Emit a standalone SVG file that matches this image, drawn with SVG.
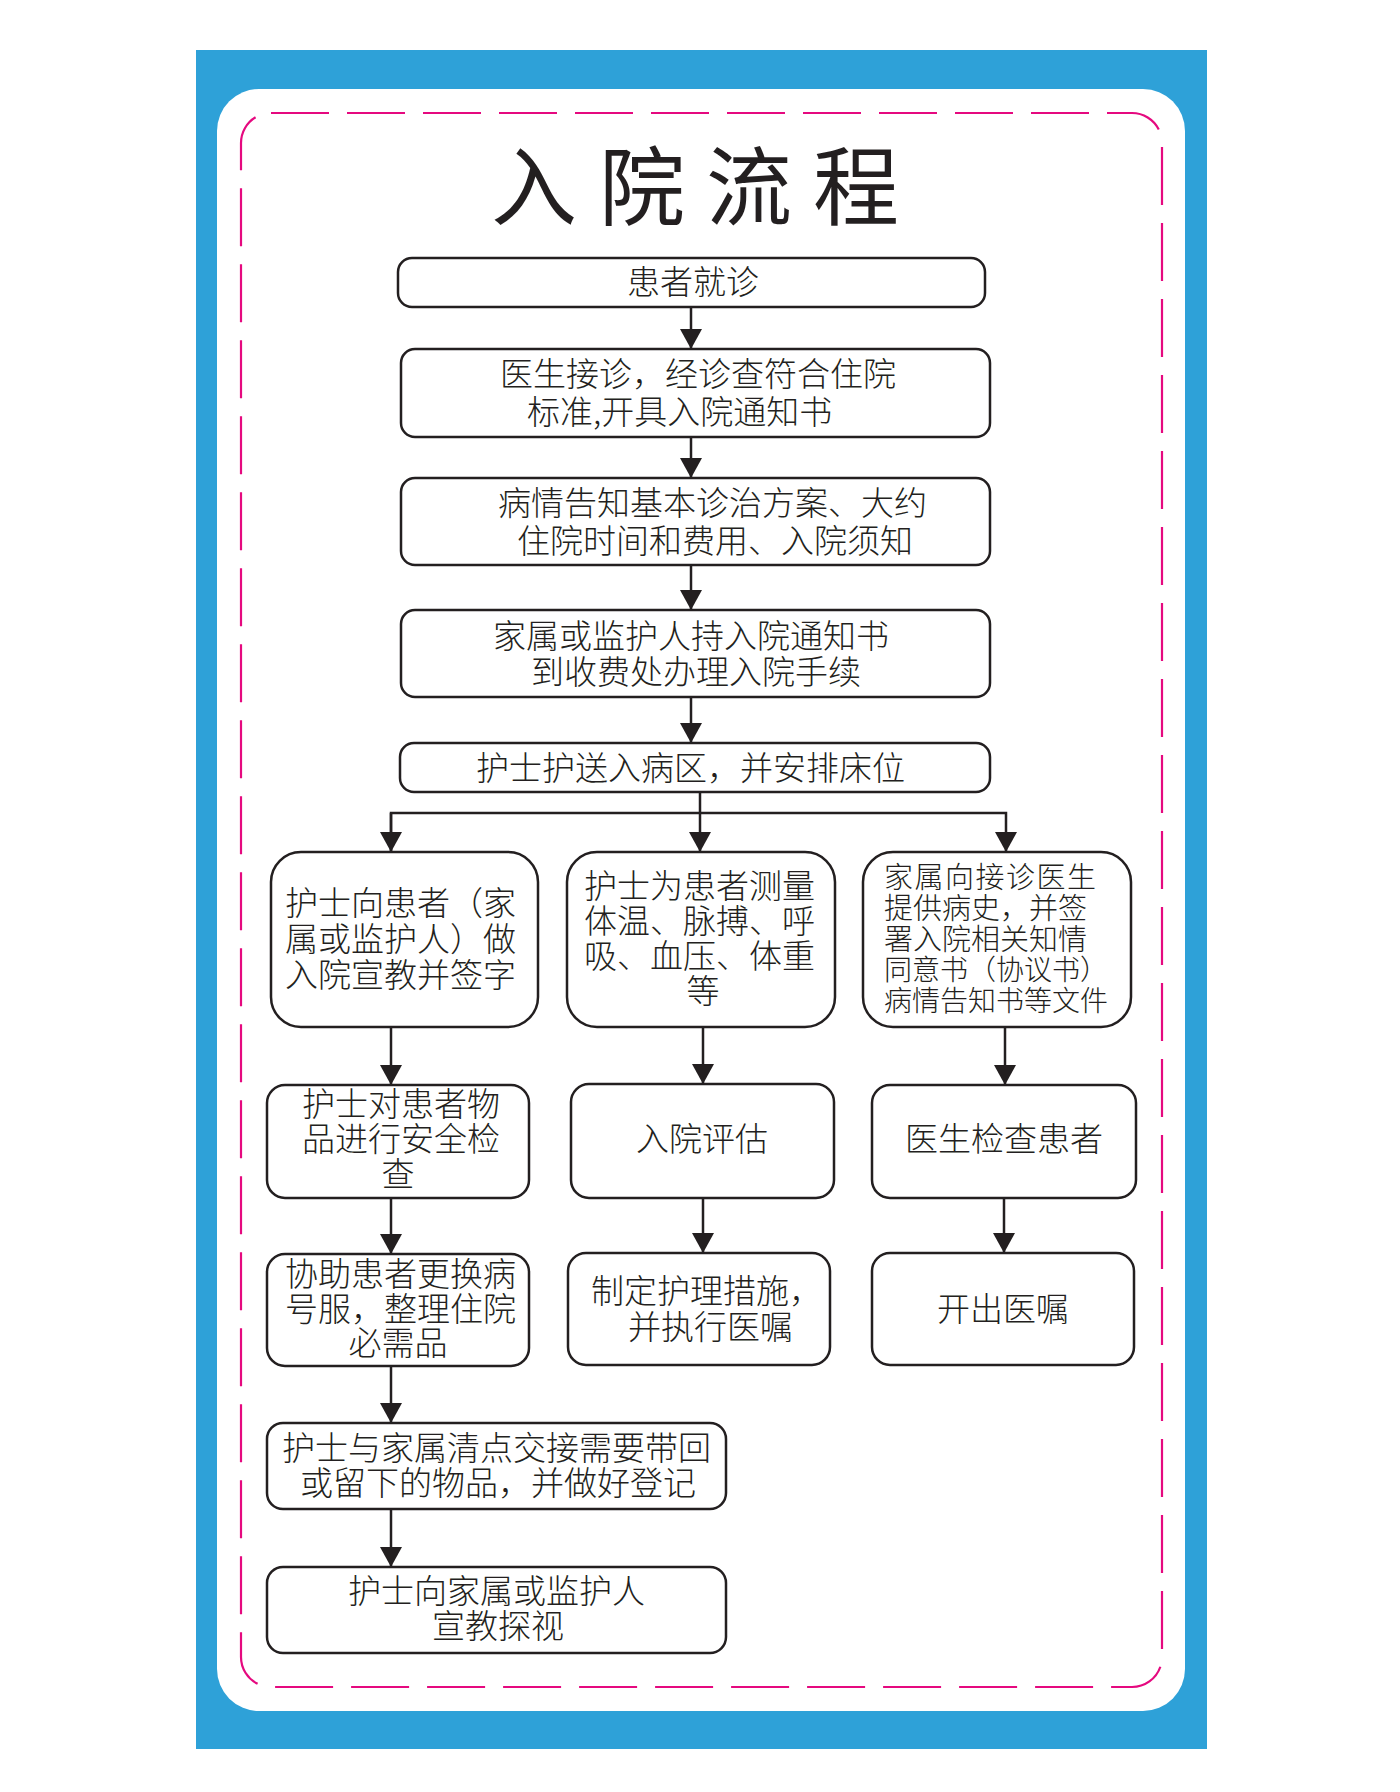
<svg xmlns="http://www.w3.org/2000/svg" width="1400" height="1792" viewBox="0 0 1400 1792">
<style>
.box{fill:#fff;stroke:#231f20;stroke-width:2.5}
.t{font-family:"Noto Sans CJK SC","Noto Sans",sans-serif;font-size:33px;fill:#231f20;dominant-baseline:central;font-weight:300}
.m{text-anchor:middle}
.s{text-anchor:start}
.r{font-size:29px}
.c{fill:none;stroke:#231f20;stroke-width:2.5}
.title{font-family:"Noto Sans CJK SC","Noto Sans",sans-serif;font-size:86px;fill:#231f20;text-anchor:middle;dominant-baseline:central;font-weight:400}
</style>
<defs>
<marker id="ah" viewBox="0 0 20 22" markerWidth="20" markerHeight="22" refX="20" refY="11" orient="auto" markerUnits="userSpaceOnUse">
<path d="M0,0 L20,11 L0,22 Z" fill="#231f20"/>
</marker>
</defs>
<rect width="1400" height="1792" fill="#fff"/>
<rect x="196" y="50" width="1011" height="1699" fill="#2ea1d8"/>
<rect x="217" y="89" width="968" height="1622" rx="42" fill="#fff"/>
<rect x="241" y="113" width="921" height="1574" rx="30" fill="none" stroke="#e5097f" stroke-width="2.2" stroke-dasharray="58 18"/>
<g id="title"><text class="title" x="534" y="181">入</text><text class="title" x="642" y="181">院</text><text class="title" x="749" y="181">流</text><text class="title" x="856" y="181">程</text></g>

<g id="connectors">
<line class="c" x1="691" y1="307" x2="691" y2="349" marker-end="url(#ah)"/>
<line class="c" x1="691" y1="437" x2="691" y2="478" marker-end="url(#ah)"/>
<line class="c" x1="691" y1="565" x2="691" y2="610" marker-end="url(#ah)"/>
<line class="c" x1="691" y1="697" x2="691" y2="743" marker-end="url(#ah)"/>
<polyline class="c" points="700,792 700,813"/>
<polyline class="c" points="391,852 391,813 1006,813 1006,852" marker-end="url(#ah)"/>
<line class="c" x1="391" y1="813" x2="391" y2="852" marker-end="url(#ah)"/>
<line class="c" x1="700" y1="813" x2="700" y2="852" marker-end="url(#ah)"/>
<line class="c" x1="391" y1="1027" x2="391" y2="1085" marker-end="url(#ah)"/>
<line class="c" x1="703" y1="1027" x2="703" y2="1084" marker-end="url(#ah)"/>
<line class="c" x1="1005" y1="1027" x2="1005" y2="1085" marker-end="url(#ah)"/>
<line class="c" x1="391" y1="1198" x2="391" y2="1254" marker-end="url(#ah)"/>
<line class="c" x1="703" y1="1198" x2="703" y2="1253" marker-end="url(#ah)"/>
<line class="c" x1="1004" y1="1198" x2="1004" y2="1253" marker-end="url(#ah)"/>
<line class="c" x1="391" y1="1366" x2="391" y2="1423" marker-end="url(#ah)"/>
<line class="c" x1="391" y1="1509" x2="391" y2="1567" marker-end="url(#ah)"/>
</g>

<g id="n1"><rect class="box" x="398" y="258" width="587" height="49" rx="14"/><text class="t m" x="693" y="280">患者就诊</text></g>
<g id="n2"><rect class="box" x="401" y="349" width="589" height="88" rx="14"/><text class="t s" x="500" y="372">医生接诊，经诊查符合住院</text><text class="t s" x="527" y="410">标准,开具入院通知书</text></g>
<g id="n3"><rect class="box" x="401" y="478" width="589" height="87" rx="14"/><text class="t s" x="498" y="501">病情告知基本诊治方案、大约</text><text class="t s" x="517" y="539">住院时间和费用、入院须知</text></g>
<g id="n4"><rect class="box" x="401" y="610" width="589" height="87" rx="14"/><text class="t s" x="493" y="634">家属或监护人持入院通知书</text><text class="t s" x="531" y="670">到收费处办理入院手续</text></g>
<g id="n5"><rect class="box" x="400" y="743" width="590" height="49" rx="14"/><text class="t s" x="476" y="766">护士护送入病区，并安排床位</text></g>

<g id="n6"><rect class="box" x="271" y="852" width="267" height="175" rx="30"/><text class="t s" x="285" y="901">护士向患者（家</text><text class="t s" x="285" y="937">属或监护人）做</text><text class="t s" x="285" y="973">入院宣教并签字</text></g>
<g id="n7"><rect class="box" x="567" y="852" width="268" height="175" rx="30"/><text class="t s" x="584" y="884">护士为患者测量</text><text class="t s" x="584" y="919">体温、脉搏、呼</text><text class="t s" x="584" y="954">吸、血压、体重</text><text class="t m" x="703" y="989">等</text></g>
<g id="n8"><rect class="box" x="863" y="852" width="268" height="175" rx="30"/><text class="t s r" x="884" y="875" style="letter-spacing:1.5px">家属向接诊医生</text><text class="t s r" x="884" y="906">提供病史，并签</text><text class="t s r" x="884" y="937">署入院相关知情</text><text class="t s" x="884" y="968" style="font-size:28px">同意书（协议书）</text><text class="t s" x="884" y="999" style="font-size:28px">病情告知书等文件</text></g>

<g id="n9"><rect class="box" x="267" y="1085" width="262" height="113" rx="18"/><text class="t s" x="302" y="1102">护士对患者物</text><text class="t s" x="302" y="1137">品进行安全检</text><text class="t m" x="398" y="1172">查</text></g>
<g id="n10"><rect class="box" x="571" y="1084" width="263" height="114" rx="18"/><text class="t m" x="702" y="1137">入院评估</text></g>
<g id="n11"><rect class="box" x="872" y="1085" width="264" height="113" rx="18"/><text class="t m" x="1004" y="1137">医生检查患者</text></g>

<g id="n12"><rect class="box" x="267" y="1254" width="262" height="112" rx="18"/><text class="t s" x="285" y="1272">协助患者更换病</text><text class="t s" x="285" y="1307">号服，整理住院</text><text class="t m" x="398" y="1341">必需品</text></g>
<g id="n13"><rect class="box" x="568" y="1253" width="262" height="112" rx="18"/><text class="t s" x="591" y="1289">制定护理措施，</text><text class="t s" x="628" y="1325">并执行医嘱</text></g>
<g id="n14"><rect class="box" x="872" y="1253" width="262" height="112" rx="18"/><text class="t m" x="1003" y="1307">开出医嘱</text></g>

<g id="n15"><rect class="box" x="267" y="1423" width="459" height="86" rx="16"/><text class="t s" x="282" y="1446">护士与家属清点交接需要带回</text><text class="t s" x="300" y="1481">或留下的物品，并做好登记</text></g>
<g id="n16"><rect class="box" x="267" y="1567" width="459" height="86" rx="16"/><text class="t s" x="348" y="1589">护士向家属或监护人</text><text class="t s" x="432" y="1624">宣教探视</text></g>
</svg>
